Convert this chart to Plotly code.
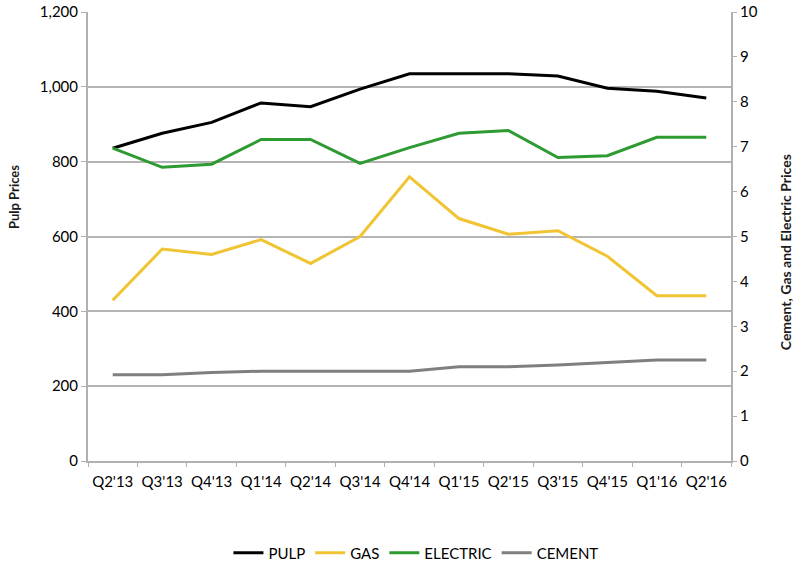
import plotly.graph_objects as go

quarters = ["Q2'13", "Q3'13", "Q4'13", "Q1'14", "Q2'14", "Q3'14", "Q4'14",
            "Q1'15", "Q2'15", "Q3'15", "Q4'15", "Q1'16", "Q2'16"]
pulp = [836, 876, 905, 957, 947, 994, 1035, 1035, 1035, 1029, 996, 988, 970]
gas = [3.58, 4.72, 4.60, 4.93, 4.40, 5.00, 6.33, 5.40, 5.05, 5.13, 4.56, 3.68, 3.68]
electric = [6.97, 6.54, 6.61, 7.16, 7.16, 6.63, 6.98, 7.30, 7.36, 6.76, 6.80, 7.21, 7.21]
cement = [1.92, 1.92, 1.97, 2.00, 2.00, 2.00, 2.00, 2.10, 2.10, 2.14, 2.20, 2.25, 2.25]

left_ticks = [0, 200, 400, 600, 800, 1000, 1200]
left_tick_text = ["0", "200", "400", "600", "800", "1,000", "1,200"]

left_title = "Pulp Prices"
right_title = "Cement, Gas and Electric Prices"

font = "Lato, 'Open Sans', sans-serif"

fig = go.Figure()
fig.add_trace(go.Scatter(x=quarters, y=pulp, name="PULP", mode="lines",
                         line=dict(color="#000000", width=3), yaxis="y"))
fig.add_trace(go.Scatter(x=quarters, y=gas, name="GAS", mode="lines",
                         line=dict(color="#F0C432", width=3), yaxis="y2"))
fig.add_trace(go.Scatter(x=quarters, y=electric, name="ELECTRIC", mode="lines",
                         line=dict(color="#2E9A32", width=3), yaxis="y2"))
fig.add_trace(go.Scatter(x=quarters, y=cement, name="CEMENT", mode="lines",
                         line=dict(color="#7F7F7F", width=3), yaxis="y2"))

fig.update_layout(
    width=796, height=567,
    margin=dict(l=88, r=65, t=12, b=106, autoexpand=False),
    paper_bgcolor="white", plot_bgcolor="white",
    font=dict(family=font, size=15, color="#000000"),
    showlegend=True,
    legend=dict(orientation="h", x=0.51, xanchor="center", y=-0.205, yanchor="middle",
                font=dict(size=15, color="#000000"), itemwidth=30, tracegroupgap=0),
    xaxis=dict(
        type="category", range=[-0.5, 12.5], automargin=False, tickangle=0,
        showline=True, linecolor="#B0B0B0", linewidth=2,
        ticks="outside", ticklen=4, tickcolor="#B0B0B0", tickson="boundaries",
        ticklabelstandoff=6,
        showgrid=False, zeroline=False,
        tickfont=dict(size=15),
    ),
    yaxis=dict(
        range=[0, 1200], tickvals=left_ticks, ticktext=left_tick_text, automargin=False,
        showline=True, linecolor="#B0B0B0", linewidth=2,
        ticks="outside", ticklen=5, tickcolor="#B0B0B0",
        showgrid=True, gridcolor="#B4B4B4", gridwidth=1.5, zeroline=False,
        tickfont=dict(size=15),
    ),
    yaxis2=dict(
        range=[0, 10], dtick=1, overlaying="y", side="right", automargin=False,
        showline=True, linecolor="#B0B0B0", linewidth=2,
        ticks="outside", ticklen=4, tickcolor="#B0B0B0",
        showgrid=False, zeroline=False,
        tickfont=dict(size=15),
    ),
    annotations=[
        dict(text="<b>" + left_title + "</b>", xref="paper", yref="paper",
             x=-0.115, y=0.588, xanchor="center", yanchor="middle", textangle=-90,
             showarrow=False, font=dict(size=13, color="#1a1a1a")),
        dict(text="<b>" + right_title + "</b>", xref="paper", yref="paper",
             x=1.084, y=0.465, xanchor="center", yanchor="middle", textangle=-90,
             showarrow=False, font=dict(size=14, color="#1a1a1a")),
    ],
)

fig.write_html("out.html")
